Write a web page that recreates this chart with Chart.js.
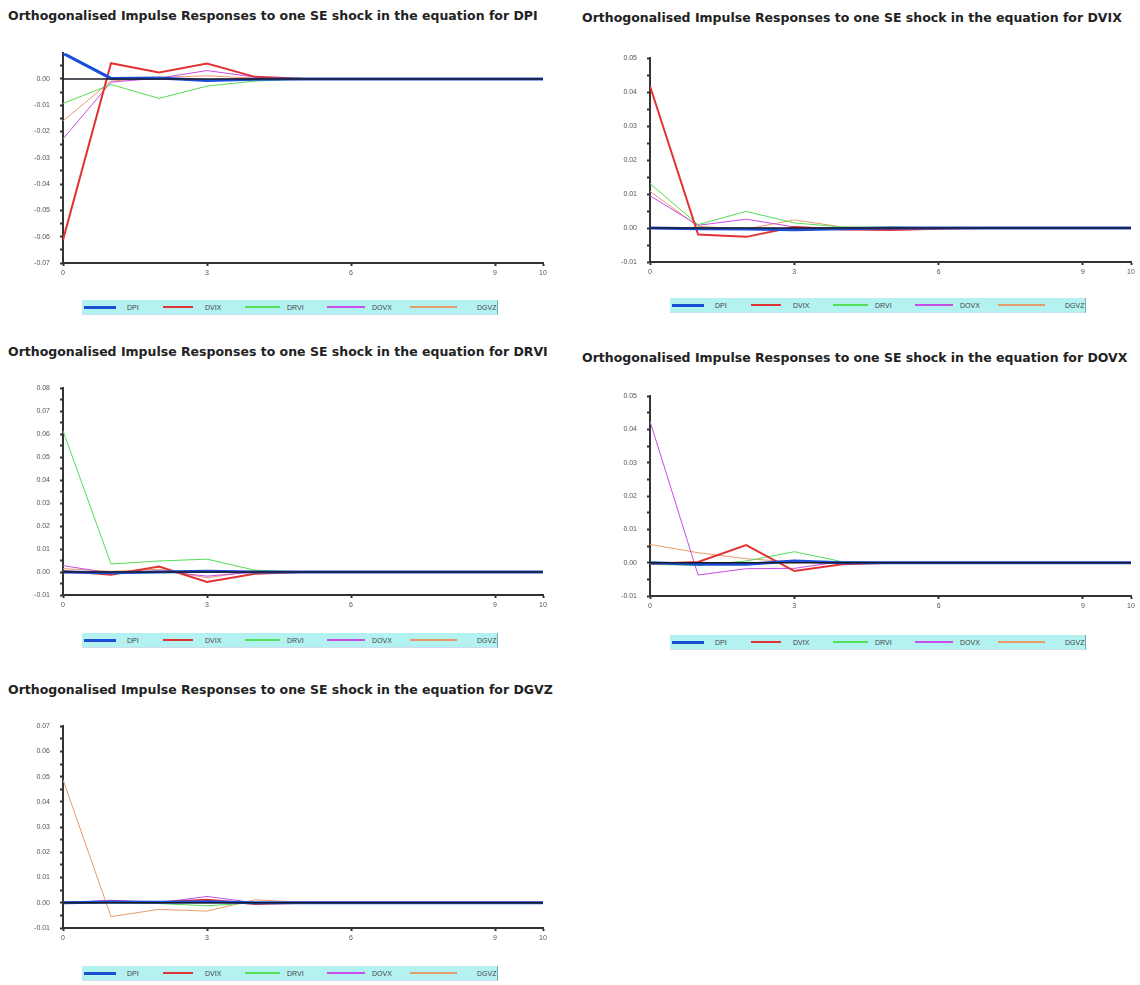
<!DOCTYPE html>
<html>
<head>
<meta charset="utf-8">
<script src="https://cdn.jsdelivr.net/npm/chart.js@4.4.1/dist/chart.umd.min.js"></script>
<style>
  html, body { margin: 0; padding: 0; background: #ffffff; }
  body { width: 1140px; height: 985px; position: relative; overflow: hidden; font-family: "Liberation Sans", Arial, sans-serif; }
  .title { position: absolute; font-weight: bold; font-size: 12.5px; color: #222; white-space: nowrap; font-family: "DejaVu Sans", sans-serif; }
  .cv { position: absolute; }
  .legend { position: absolute; height: 15px; background: #b4f2f2; border-right: 1px solid #7aa; border-bottom: 1px solid #cde; box-sizing: border-box; }
  .legend .ln { position: absolute; }
  .legend .lb { position: absolute; top: 4px; font-size: 7px; color: #444; line-height: 8px; }
</style>
</head>
<body>
<script>
// ---------------- DATA ----------------
const horizon = [0, 1, 2, 3, 4, 5, 6, 7, 8, 9, 10];
const seriesNames = ["DPI", "DVIX", "DRVI", "DOVX", "DGVZ"];
const xTickValues = [0, 3, 6, 9, 10];

// Shock in the equation for DPI
const dpiShock_DPI  = [0.0098, 0.0002, 0.0004, -0.0006, -0.0001, 0, 0, 0, 0, 0, 0];
const dpiShock_DVIX = [-0.0612, 0.0060, 0.0025, 0.0059, 0.0008, 0.0001, 0, 0, 0, 0, 0];
const dpiShock_DRVI = [-0.0093, -0.0021, -0.0074, -0.0027, -0.0008, 0, 0, 0, 0, 0, 0];
const dpiShock_DOVX = [-0.0228, -0.0012, 0.0003, 0.0032, 0.0007, 0, 0, 0, 0, 0, 0];
const dpiShock_DGVZ = [-0.0160, -0.0008, 0.0006, 0.0012, 0.0003, 0, 0, 0, 0, 0, 0];

// Shock in the equation for DVIX
const dvixShock_DPI  = [0.0000, -0.0002, -0.0003, -0.0005, -0.0002, 0, 0, 0, 0, 0, 0];
const dvixShock_DVIX = [0.0418, -0.0019, -0.0026, 0.0003, -0.0004, -0.0006, -0.0002, 0, 0, 0, 0];
const dvixShock_DRVI = [0.0131, 0.0010, 0.0049, 0.0015, 0.0003, 0.0003, 0, 0, 0, 0, 0];
const dvixShock_DOVX = [0.0095, 0.0008, 0.0026, 0.0003, 0.0000, 0, 0, 0, 0, 0, 0];
const dvixShock_DGVZ = [0.0108, 0.0005, -0.0003, 0.0024, 0.0003, 0, 0, 0, 0, 0, 0];

// Shock in the equation for DRVI
const drviShock_DPI  = [0.0000, -0.0003, 0.0000, 0.0003, 0, 0, 0, 0, 0, 0, 0];
const drviShock_DVIX = [0.0005, -0.0012, 0.0024, -0.0043, -0.0008, 0, 0, 0, 0, 0, 0];
const drviShock_DRVI = [0.0615, 0.0035, 0.0048, 0.0056, 0.0008, 0, 0, 0, 0, 0, 0];
const drviShock_DOVX = [0.0028, -0.0005, 0.0005, -0.0018, 0.0000, 0, 0, 0, 0, 0, 0];
const drviShock_DGVZ = [0.0015, 0.0003, 0.0012, -0.0025, 0.0005, 0, 0, 0, 0, 0, 0];

// Shock in the equation for DOVX
const dovxShock_DPI  = [0.0000, -0.0005, -0.0005, 0.0005, 0, 0, 0, 0, 0, 0, 0];
const dovxShock_DVIX = [-0.0003, 0.0002, 0.0053, -0.0025, -0.0005, 0, 0, 0, 0, 0, 0];
const dovxShock_DRVI = [-0.0005, -0.0008, 0.0005, 0.0033, 0.0003, 0, 0, 0, 0, 0, 0];
const dovxShock_DOVX = [0.0425, -0.0037, -0.0018, -0.0017, 0.0004, 0, 0, 0, 0, 0, 0];
const dovxShock_DGVZ = [0.0055, 0.0030, 0.0012, 0.0002, 0.0000, 0, 0, 0, 0, 0, 0];

// Shock in the equation for DGVZ
const dgvzShock_DPI  = [0.0000, 0.0003, 0.0002, 0.0004, 0, 0, 0, 0, 0, 0, 0];
const dgvzShock_DVIX = [0.0000, 0.0005, 0.0002, 0.0012, -0.0005, 0, 0, 0, 0, 0, 0];
const dgvzShock_DRVI = [0.0000, 0.0000, -0.0003, -0.0012, 0.0000, 0, 0, 0, 0, 0, 0];
const dgvzShock_DOVX = [0.0000, 0.0010, 0.0000, 0.0025, 0.0000, 0, 0, 0, 0, 0, 0];
const dgvzShock_DGVZ = [0.0488, -0.0055, -0.0026, -0.0033, 0.0012, 0.0002, -0.0003, 0, 0, 0, 0];

// ---------------- STYLE / LAYOUT ----------------
const seriesColors = ["#1d4fd6", "#e23333", "#55dd55", "#c84ce6", "#e89a6a"];
const seriesWidths = [3, 2, 1, 1, 1];

const panels = [
  { shock: "DPI",  data: [dpiShock_DPI, dpiShock_DVIX, dpiShock_DRVI, dpiShock_DOVX, dpiShock_DGVZ],
    ymin: -0.07, ymax: 0.0098, titleX: 8, titleY: 8, px0: 63, px1: 543, py0: 47, py1: 263, legX: 82, legY: 300 },
  { shock: "DVIX", data: [dvixShock_DPI, dvixShock_DVIX, dvixShock_DRVI, dvixShock_DOVX, dvixShock_DGVZ],
    ymin: -0.01, ymax: 0.05, titleX: 582, titleY: 10, px0: 650, px1: 1131, py0: 52, py1: 262, legX: 670, legY: 298 },
  { shock: "DRVI", data: [drviShock_DPI, drviShock_DVIX, drviShock_DRVI, drviShock_DOVX, drviShock_DGVZ],
    ymin: -0.01, ymax: 0.08, titleX: 8, titleY: 344, px0: 63, px1: 543, py0: 382, py1: 595, legX: 82, legY: 633 },
  { shock: "DOVX", data: [dovxShock_DPI, dovxShock_DVIX, dovxShock_DRVI, dovxShock_DOVX, dovxShock_DGVZ],
    ymin: -0.01, ymax: 0.05, titleX: 582, titleY: 350, px0: 650, px1: 1131, py0: 390, py1: 596, legX: 670, legY: 635 },
  { shock: "DGVZ", data: [dgvzShock_DPI, dgvzShock_DVIX, dgvzShock_DRVI, dgvzShock_DOVX, dgvzShock_DGVZ],
    ymin: -0.01, ymax: 0.07, titleX: 8, titleY: 682, px0: 63, px1: 543, py0: 720, py1: 928, legX: 82, legY: 966 }
];

const Y_AXIS_W = 46, X_AXIS_H = 24, PAD_TOP = 8, PAD_RIGHT = 12;
const legendLineX = [2, 81, 163, 245, 328];
const legendLineW = [32, 30, 35, 38, 47];
const legendLabelX = [45, 123, 205, 290, 395];

function el(tag, cls, style, text, parent) {
  const e = document.createElement(tag);
  if (cls) e.className = cls;
  Object.assign(e.style, style || {});
  if (text !== undefined) e.textContent = text;
  (parent || document.body).appendChild(e);
  return e;
}

// zero reference line drawn over the series
const zeroLinePlugin = {
  id: "zeroLine",
  afterDatasetsDraw(chart) {
    const y = chart.scales.y.getPixelForValue(0);
    const { left, right } = chart.chartArea;
    const ctx = chart.ctx;
    ctx.save();
    ctx.strokeStyle = "#1c1c28";
    ctx.lineWidth = 1.5;
    ctx.beginPath();
    ctx.moveTo(left, y);
    ctx.lineTo(right, y);
    ctx.stroke();
    ctx.restore();
  }
};

panels.forEach((p) => {
  el("div", "title", { left: p.titleX + "px", top: p.titleY + "px" },
     "Orthogonalised Impulse Responses to one SE shock in the equation for " + p.shock);

  const w = (p.px1 - p.px0) + Y_AXIS_W + PAD_RIGHT;
  const h = (p.py1 - p.py0) + PAD_TOP + X_AXIS_H;
  const wrap = el("div", "cv", { left: (p.px0 - Y_AXIS_W) + "px", top: (p.py0 - PAD_TOP) + "px", width: w + "px", height: h + "px" });
  const cv = document.createElement("canvas");
  cv.width = w; cv.height = h;
  cv.style.width = w + "px"; cv.style.height = h + "px";
  wrap.appendChild(cv);

  const datasets = seriesNames.map((name, i) => ({
    label: name,
    data: horizon.map((x, k) => ({ x: x, y: p.data[i][k] })),
    borderColor: seriesColors[i],
    borderWidth: seriesWidths[i],
    pointRadius: 0,
    tension: 0,
    fill: false
  }));

  new Chart(cv, {
    type: "line",
    data: { datasets: datasets },
    plugins: [zeroLinePlugin],
    options: {
      responsive: false,
      animation: false,
      events: [],
      layout: { padding: { top: PAD_TOP, right: PAD_RIGHT, left: 0, bottom: 0 } },
      plugins: { legend: { display: false }, tooltip: { enabled: false }, title: { display: false } },
      scales: {
        x: {
          type: "linear", min: 0, max: 10,
          afterBuildTicks: (s) => { s.ticks = xTickValues.map(v => ({ value: v })); },
          afterFit: (s) => { s.height = X_AXIS_H; },
          ticks: { autoSkip: false, maxRotation: 0, padding: 3, color: "#555", font: { size: 7, family: "Liberation Sans" },
                   callback: (v) => String(v) },
          grid: { drawOnChartArea: false, tickLength: 3, tickColor: "#333", tickWidth: 2 },
          border: { color: "#333", width: 2 }
        },
        y: {
          type: "linear", min: p.ymin, max: p.ymax,
          afterBuildTicks: (s) => {
            const t = [];
            for (let k = Math.round(p.ymin / 0.005); k * 0.005 <= p.ymax + 1e-9; k++) t.push({ value: Math.round(k * 5) / 1000 });
            s.ticks = t;
          },
          afterFit: (s) => { s.width = Y_AXIS_W; },
          ticks: { autoSkip: false, padding: 10, color: "#555", font: { size: 7, family: "Liberation Sans" },
                   callback: (v) => (Math.abs(v * 100 - Math.round(v * 100)) < 1e-6 ? (Math.abs(v) < 1e-9 ? "0.00" : v.toFixed(2)) : "") },
          grid: { drawOnChartArea: false, tickLength: 3, tickColor: "#333", tickWidth: 2 },
          border: { color: "#333", width: 2 }
        }
      }
    }
  });

  // legend box
  const leg = el("div", "legend", { left: p.legX + "px", top: p.legY + "px", width: "416px" });
  seriesNames.forEach((name, i) => {
    const lw = Math.max(2, seriesWidths[i]);
    el("div", "ln", { left: legendLineX[i] + "px", top: (7 - Math.floor(lw / 2)) + "px", width: legendLineW[i] + "px",
       height: lw + "px", background: seriesColors[i] }, undefined, leg);
    el("div", "lb", { left: legendLabelX[i] + "px" }, name, leg);
  });
});
</script>
</body>
</html>
